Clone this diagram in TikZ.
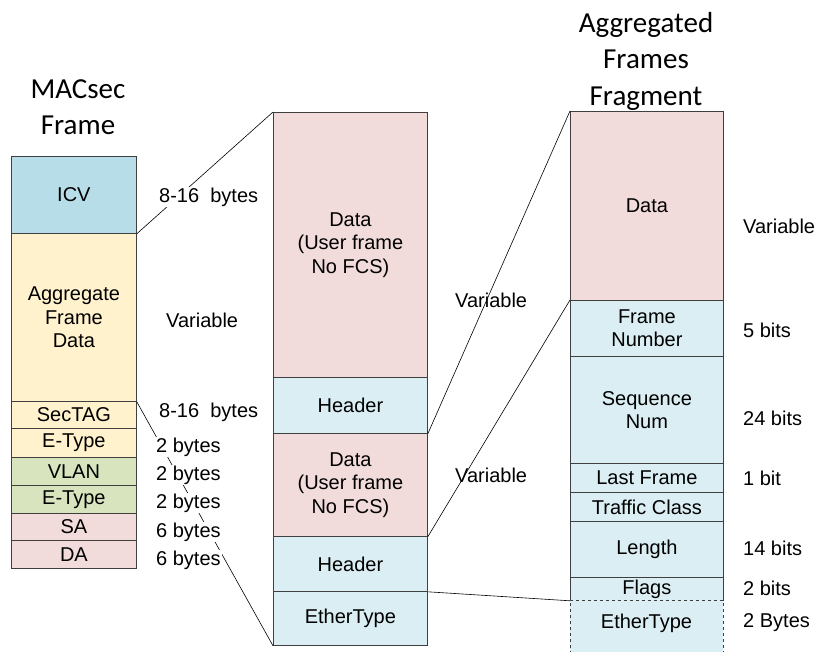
\documentclass[tikz,border=0pt]{standalone}
\usepackage{fontspec}
\setmainfont{Liberation Sans}
\newfontfamily\titlefont{Carlito}

\definecolor{icvblue}{HTML}{B7DDE8}
\definecolor{hdrblue}{HTML}{DAEEF3}
\definecolor{tagyellow}{HTML}{FFF2CC}
\definecolor{vlangreen}{HTML}{D7E4BD}
\definecolor{datapink}{HTML}{F2DCDB}
\definecolor{edgegray}{HTML}{3F3F3F}

\begin{document}
\begin{tikzpicture}[x=1pt,y=-1pt,
  field/.style={draw=edgegray, line width=0.8pt, anchor=north west, inner sep=0pt,
                align=center, font=\fontsize{20}{23.5}\selectfont},
  sizelabel/.style={anchor=west, inner sep=1pt, font=\fontsize{20}{24}\selectfont},
  masked/.style={sizelabel, fill=white},
  link/.style={line width=0.6pt, black},
  heading/.style={align=center, font=\titlefont\fontsize{29}{36.5}\selectfont}]
\useasboundingbox (0,0) rectangle (820,652);

% column headings
\node[heading] (ttlmac) at (78,107) {MACsec\\Frame};
\node[heading] (ttlagg) at (646,61) {Aggregated\\Frames\\Fragment};

% MACsec frame
\node[field, fill=icvblue,   minimum width=125, minimum height=77]  (icv)    at (11,156) {ICV};
\node[field, fill=tagyellow, minimum width=125, minimum height=168] (agg)    at (11,233) {Aggregate\\Frame\\Data};
\node[field, fill=tagyellow, minimum width=125, minimum height=27]  (sectag) at (11,401) {SecTAG};
\node[field, fill=tagyellow, minimum width=125, minimum height=29]  (etypea) at (11,428) {E-Type};
\node[field, fill=vlangreen, minimum width=125, minimum height=28]  (vlan)   at (11,457) {VLAN};
\node[field, fill=vlangreen, minimum width=125, minimum height=28]  (etypeb) at (11,485) {E-Type};
\node[field, fill=datapink,  minimum width=125, minimum height=27]  (sa)     at (11,513) {SA};
\node[field, fill=datapink,  minimum width=125, minimum height=28]  (da)     at (11,540) {DA};

% aggregate frame data
\node[field, fill=datapink, minimum width=154, minimum height=265] (dataa) at (273,112) {Data\\(User frame\\No FCS)};
\node[field, fill=hdrblue,  minimum width=154, minimum height=56]  (hdra)  at (273,377) {Header};
\node[field, fill=datapink, minimum width=154, minimum height=103] (datab) at (273,433) {Data\\(User frame\\No FCS)};
\node[field, fill=hdrblue,  minimum width=154, minimum height=55]  (hdrb)  at (273,536) {Header};
\node[field, fill=hdrblue,  minimum width=154, minimum height=54]  (ether) at (273,591) {EtherType};

% aggregated frames fragment
\node[field, fill=datapink, minimum width=153, minimum height=189] (fdata) at (570,111) {Data};
\node[field, fill=hdrblue,  minimum width=153, minimum height=56]  (fnum)  at (570,300) {Frame\\Number};
\node[field, fill=hdrblue,  minimum width=153, minimum height=107] (fseq)  at (570,356) {Sequence\\Num};
\node[field, fill=hdrblue,  minimum width=153, minimum height=29]  (flast) at (570,463) {Last Frame};
\node[field, fill=hdrblue,  minimum width=153, minimum height=29]  (ftc)   at (570,492) {Traffic Class};
\node[field, fill=hdrblue,  minimum width=153, minimum height=56]  (flen)  at (570,521) {Length};
\node[field, fill=hdrblue,  minimum width=153, minimum height=23]  (fflag) at (570,577) {Flags};

% open-ended EtherType field below the fragment
\fill[hdrblue] (570,600) rectangle (723,660);
\draw[edgegray, line width=0.8pt, dashed] (570,660) -- (570,600) -- (723,600) -- (723,660);
\node[font=\fontsize{20}{24}\selectfont] (fether) at (646.5,623) {EtherType};

% expansion lines
\draw[link] (icv.south east) -- (dataa.north west);
\draw[link] (agg.south east) -- (ether.south west);
\draw[link] (hdra.south east) -- (fdata.north west);
\draw[link] (datab.south east) -- (fnum.north west);
\draw[link] (hdrb.south east) -- (fflag.south west);

% field sizes
\node[masked] (szicv)  at (158,197) {8-16~ bytes};
\node[masked] (szagg)  at (165,320) {Variable};
\node[masked] (sztag)  at (158,412) {8-16~ bytes};
\node[masked] (szeta)  at (155,447) {2 bytes};
\node[masked] (szvlan) at (155,475) {2 bytes};
\node[masked] (szetb)  at (155,503) {2 bytes};
\node[masked] (szsa)   at (155,532) {6 bytes};
\node[masked] (szda)   at (155,560) {6 bytes};

\node[sizelabel] (szdata) at (454,300) {Variable};
\node[sizelabel] (szdatb) at (454,475) {Variable};

\node[sizelabel] (szfdat) at (742,226) {Variable};
\node[sizelabel] (szfnum) at (742,330) {5 bits};
\node[sizelabel] (szfseq) at (742,418) {24 bits};
\node[sizelabel] (szflst) at (742,478) {1 bit};
\node[sizelabel] (szflen) at (742,548) {14 bits};
\node[sizelabel] (szflag) at (742,588) {2 bits};
\node[sizelabel] (szfeth) at (742,623) {2 Bytes};
\end{tikzpicture}
\end{document}
